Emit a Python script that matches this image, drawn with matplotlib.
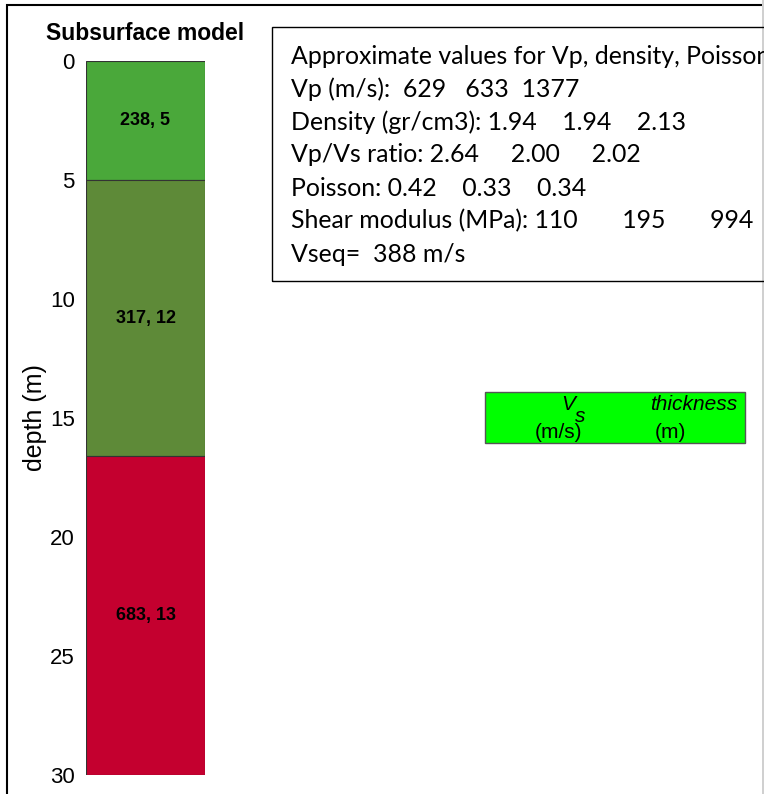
import matplotlib
matplotlib.use("Agg")
from matplotlib import pyplot as plt
from matplotlib.patches import Rectangle

# Layer model
vs = [238, 317, 683]
thick_lbl = [5, 12, 13]
tops = [0, 5, 16.6]
bottoms = [5, 16.6, 30]
colors = ["#4aa83a", "#5e8a38", "#c4002f"]
yticks = [0, 5, 10, 15, 20, 25, 30]

info_lines = [
    "Approximate values for Vp, density, Poisson",
    "Vp (m/s):  629   633  1377",
    "Density (gr/cm3): 1.94    1.94    2.13",
    "Vp/Vs ratio: 2.64     2.00     2.02",
    "Poisson: 0.42    0.33    0.34",
    "Shear modulus (MPa): 110       195       994",
    "Vseq=  388 m/s",
]

W, H = 764, 794
fig = plt.figure(figsize=(W / 100, H / 100), dpi=100)


def fx(px):
    return px / W


def fy(py):
    return 1 - py / H


# outer frame (right and bottom edges fall outside the picture)
fig.patches.append(Rectangle((fx(7), fy(820)), fx(800), fy(5) - fy(820),
                             transform=fig.transFigure, fill=False,
                             edgecolor="black", lw=1.5))
fig.patches.append(Rectangle((fx(762), 0), fx(2), 1, transform=fig.transFigure,
                             facecolor="#d0d0d0", edgecolor="none"))

# depth column
ax = fig.add_axes([fx(86), fy(775), fx(205) - fx(86), fy(61) - fy(775)])
heights = [b - t for t, b in zip(tops, bottoms)]
ax.bar([0] * 3, heights, bottom=tops, width=1, color=colors,
       edgecolor="#333333", lw=0.8)
for v, th, t, b in zip(vs, thick_lbl, tops, bottoms):
    ax.text(0, (t + b) / 2, f"{v}, {th}", ha="center", va="center",
            fontsize=13, fontweight="bold", family="Liberation Sans")
ax.set_xlim(-0.5, 0.5)
ax.set_ylim(30, 0)
ax.set_yticks(yticks)
ax.set_xticks([])
ax.tick_params(axis="y", length=0, pad=8, labelsize=16)
for lab in ax.get_yticklabels():
    lab.set_family("Liberation Sans")
for s in ax.spines.values():
    s.set_visible(False)
ax.set_ylabel("depth (m)", fontsize=18, family="Liberation Sans", labelpad=2)
fig.text(fx(145), fy(33), "Subsurface model", ha="center", va="center",
         fontsize=16.5, fontweight="bold", family="Liberation Sans")

# info box
fig.patches.append(Rectangle((fx(272), fy(281)), fx(560), fy(27) - fy(281),
                             transform=fig.transFigure, fill=False,
                             edgecolor="black", lw=1))
for i, line in enumerate(info_lines):
    fig.text(fx(291), fy(56 + 33 * i), line, ha="left", va="center",
             fontsize=17.9, family="Lato")

# legend box
fig.patches.append(Rectangle((fx(485), fy(443)), fx(260), fy(392) - fy(443),
                             transform=fig.transFigure, facecolor="#00ff00",
                             edgecolor="#555555", lw=1))
lk = dict(fontsize=15, family="Liberation Sans", va="center")
fig.text(fx(568), fy(405), "V", ha="center", style="italic", **lk)
fig.text(fx(580), fy(417), "s", ha="center", style="italic", **lk)
fig.text(fx(558), fy(433), "(m/s)", ha="center", **lk)
fig.text(fx(694), fy(405), "thickness", ha="center", style="italic", **lk)
fig.text(fx(670), fy(433), "(m)", ha="center", **lk)

fig.savefig("out.png", dpi=100)
